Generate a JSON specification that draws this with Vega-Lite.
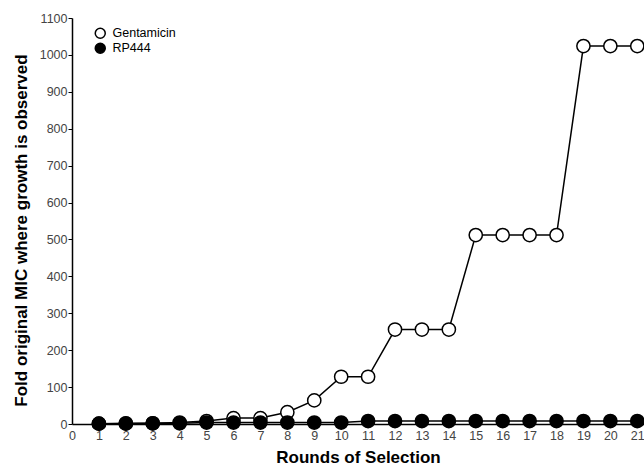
{
  "$schema": "https://vega.github.io/schema/vega-lite/v6.json",
  "width": 572,
  "height": 406,
  "autosize": {"type": "none"},
  "padding": {"left": 72, "top": 18, "right": 0, "bottom": 44},
  "background": "white",
  "config": {
    "view": {"stroke": null},
    "font": "Liberation Sans",
    "axis": {"grid": false, "domainColor": "black", "domainWidth": 1.5, "tickColor": "black", "labelColor": "#444", "labelFontSize": 12.5, "titleFontSize": 17, "titleFontWeight": "bold", "titleColor": "black", "labelFont": "Liberation Sans", "titleFont": "Liberation Sans"}
  },
  "data": {
    "values": [
      {"round": 1, "mic": 1, "series": "Gentamicin"},
      {"round": 2, "mic": 2, "series": "Gentamicin"},
      {"round": 3, "mic": 2, "series": "Gentamicin"},
      {"round": 4, "mic": 4, "series": "Gentamicin"},
      {"round": 5, "mic": 8, "series": "Gentamicin"},
      {"round": 6, "mic": 16, "series": "Gentamicin"},
      {"round": 7, "mic": 16, "series": "Gentamicin"},
      {"round": 8, "mic": 32, "series": "Gentamicin"},
      {"round": 9, "mic": 64, "series": "Gentamicin"},
      {"round": 10, "mic": 128, "series": "Gentamicin"},
      {"round": 11, "mic": 128, "series": "Gentamicin"},
      {"round": 12, "mic": 256, "series": "Gentamicin"},
      {"round": 13, "mic": 256, "series": "Gentamicin"},
      {"round": 14, "mic": 256, "series": "Gentamicin"},
      {"round": 15, "mic": 512, "series": "Gentamicin"},
      {"round": 16, "mic": 512, "series": "Gentamicin"},
      {"round": 17, "mic": 512, "series": "Gentamicin"},
      {"round": 18, "mic": 512, "series": "Gentamicin"},
      {"round": 19, "mic": 1024, "series": "Gentamicin"},
      {"round": 20, "mic": 1024, "series": "Gentamicin"},
      {"round": 21, "mic": 1024, "series": "Gentamicin"},
      {"round": 1, "mic": 1, "series": "RP444"},
      {"round": 2, "mic": 1, "series": "RP444"},
      {"round": 3, "mic": 2, "series": "RP444"},
      {"round": 4, "mic": 2, "series": "RP444"},
      {"round": 5, "mic": 4, "series": "RP444"},
      {"round": 6, "mic": 4, "series": "RP444"},
      {"round": 7, "mic": 4, "series": "RP444"},
      {"round": 8, "mic": 4, "series": "RP444"},
      {"round": 9, "mic": 4, "series": "RP444"},
      {"round": 10, "mic": 4, "series": "RP444"},
      {"round": 11, "mic": 8, "series": "RP444"},
      {"round": 12, "mic": 8, "series": "RP444"},
      {"round": 13, "mic": 8, "series": "RP444"},
      {"round": 14, "mic": 8, "series": "RP444"},
      {"round": 15, "mic": 8, "series": "RP444"},
      {"round": 16, "mic": 8, "series": "RP444"},
      {"round": 17, "mic": 8, "series": "RP444"},
      {"round": 18, "mic": 8, "series": "RP444"},
      {"round": 19, "mic": 8, "series": "RP444"},
      {"round": 20, "mic": 8, "series": "RP444"},
      {"round": 21, "mic": 8, "series": "RP444"}
    ]
  },
  "encoding": {
    "x": {"field": "round", "type": "quantitative", "scale": {"domain": [0, 21.25], "nice": false, "zero": true},
      "axis": {"title": "Rounds of Selection", "format": "d", "values": [0,1,2,3,4,5,6,7,8,9,10,11,12,13,14,15,16,17,18,19,20,21], "ticks": false, "labelPadding": 5, "titlePadding": 8, "labelFlush": false}},
    "y": {"field": "mic", "type": "quantitative", "scale": {"domain": [0, 1100], "nice": false},
      "axis": {"title": "Fold original MIC where growth is observed", "format": "d", "values": [0,100,200,300,400,500,600,700,800,900,1000,1100], "tickSize": 4, "labelPadding": 1, "titlePadding": 9, "titleY": 212}}
  },
  "layer": [
    {"mark": {"type": "line", "color": "black", "strokeWidth": 1.5}, "encoding": {"detail": {"field": "series"}}},
    {"mark": {"type": "point", "shape": "circle", "stroke": "black", "strokeWidth": 1.5, "size": 175, "opacity": 1, "filled": false},
      "encoding": {"fill": {"field": "series", "type": "nominal", "scale": {"domain": ["Gentamicin", "RP444"], "range": ["white", "black"]},
        "legend": {"title": null, "orient": "none", "legendX": 22, "legendY": 9, "symbolType": "circle", "symbolSize": 100, "symbolStrokeColor": "black", "symbolStrokeWidth": 1.5, "labelFontSize": 12.5, "labelColor": "black", "rowPadding": -3, "labelOffset": 6}}}}
  ]
}
